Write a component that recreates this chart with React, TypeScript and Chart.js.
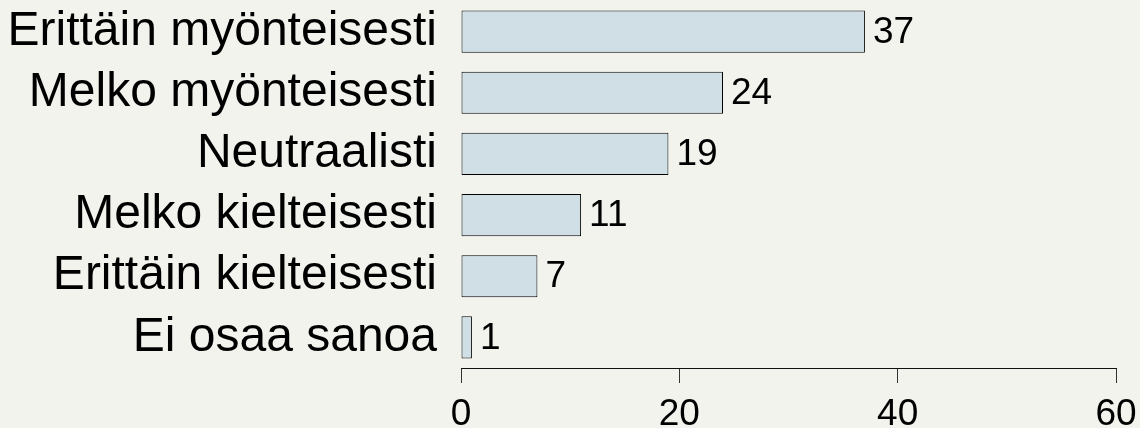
import React, { useEffect, useRef } from "react";
import { Chart, registerables } from "chart.js";

Chart.register(...registerables);

const categories = [
  "Erittäin myönteisesti",
  "Melko myönteisesti",
  "Neutraalisti",
  "Melko kielteisesti",
  "Erittäin kielteisesti",
  "Ei osaa sanoa",
];
const values = [37, 24, 19, 11, 7, 1];
const xTicks = [0, 20, 40, 60];

const FONT = "'Liberation Sans', Arial, sans-serif";
const BG = "#f3f3ee";

const valueLabels = {
  id: "valueLabels",
  afterDatasetsDraw(chart: any) {
    const ctx = chart.ctx;
    const meta = chart.getDatasetMeta(0);
    ctx.save();
    ctx.font = `37px ${FONT}`;
    ctx.fillStyle = "#000";
    ctx.textAlign = "left";
    ctx.textBaseline = "middle";
    meta.data.forEach((bar: any, i: number) => {
      ctx.fillText(String(values[i]), bar.x + 8, bar.y + 1);
    });
    ctx.restore();
  },
};

export default function App() {
  const ref = useRef<HTMLCanvasElement | null>(null);

  useEffect(() => {
    if (!ref.current) return;
    const chart = new Chart(ref.current, {
      type: "bar",
      data: {
        labels: categories,
        datasets: [
          {
            data: values,
            backgroundColor: "#cfdfe5",
            borderColor: "#000",
            borderWidth: 1,
            borderSkipped: false,
            barPercentage: 0.69,
            categoryPercentage: 1,
          },
        ],
      },
      options: {
        indexAxis: "y",
        animation: false,
        responsive: true,
        maintainAspectRatio: false,
        layout: { padding: { top: 1, right: 24, bottom: 0, left: 0 } },
        plugins: {
          legend: { display: false },
          tooltip: { enabled: false },
        },
        scales: {
          y: {
            type: "category",
            grid: { display: false, drawTicks: false },
            border: { display: false },
            ticks: {
              color: "#000",
              padding: 24,
              autoSkip: false,
              font: { family: FONT, size: 48 },
            },
            afterFit(scale: any) {
              scale.width = 461;
              scale.paddingTop = 0;
              scale.paddingBottom = 0;
            },
          },
          x: {
            type: "linear",
            min: 0,
            max: 60,
            afterBuildTicks(scale: any) {
              scale.ticks = xTicks.map((v) => ({ value: v }));
            },
            grid: {
              drawOnChartArea: false,
              drawTicks: true,
              tickLength: 15,
              color: "#333",
              lineWidth: 1,
            },
            border: { display: true, color: "#111", width: 1 },
            ticks: {
              color: "#000",
              padding: 10,
              maxRotation: 0,
              autoSkip: false,
              font: { family: FONT, size: 37 },
            },
            afterFit(scale: any) {
              scale.height = 60;
              scale.paddingLeft = 0;
              scale.paddingRight = 0;
            },
          },
        },
      },
      plugins: [valueLabels],
    });
    return () => chart.destroy();
  }, []);

  return (
    <div
      style={{
        position: "fixed",
        left: 0,
        top: 0,
        width: 1140,
        height: 428,
        background: BG,
      }}
    >
      <canvas ref={ref} />
    </div>
  );
}
